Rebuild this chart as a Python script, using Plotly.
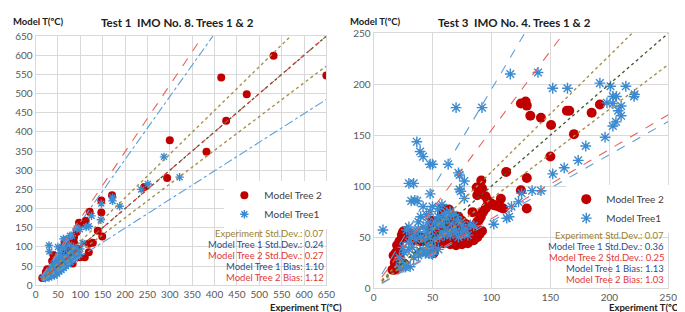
import plotly.graph_objects as go

# ---------------- DATA ----------------
# Left chart: Test 1 IMO No. 8
left_tree2_points = [(650,547),(532,599),(472,498),(415,542),(426,429),(382,348),(300,378),(294,280),
    (243,256),(171,235),(147,221),(147,190),(121,192),(112,168),(97,163),(101,160),(92,139),(139,142),
    (149,127),(128,111),(119,108),(119,86),(110,73),(99,73),(77,117),(86,111),(72,88),(62,75),(78,63),
    (83,57),(59,96),(65,110),(68,106),(40,79),(37,63),(26,42),(23,34),(15,19),(45,60),(50,52),(55,70),
    (60,80),(66,92),(70,100),(52,45),(48,40),(35,30),(30,28),(42,50),(57,62),(63,68),(68,57),(75,70),
    (80,78),(85,90),(86,125),(80,100),(70,65),(62,55),(54,58),(90,75),(95,95)]
left_tree1_points = [(287,335),(322,282),(251,264),(236,250),(172,229),(172,220),(188,206),(147,213),
    (146,171),(125,181),(119,154),(113,152),(99,146),(92,148),(81,129),(70,121),(77,129),(62,121),
    (20,20),(25,22),(28,25),(30,20),(33,28),(35,35),(38,40),(40,30),(42,45),(45,50),(47,38),(50,55),
    (52,48),(55,60),(57,45),(60,65),(62,52),(65,70),(67,58),(70,75),(72,62),(75,80),(78,68),(80,85),
    (82,72),(85,90),(88,78),(90,95),(95,85),(60,100),(65,95),(55,85),(50,75),(45,65),(40,55),(35,45),
    (30,35),(48,30),(53,35),(58,40),(63,45),(68,50),(73,55),(78,60),(83,65),(88,70),(93,75),(98,80),
    (105,110),(50,100),(31,88),(30,104),(18,22),(22,18),(27,30),(42,25),(36,24),(100,95),(85,100),
    (75,105),(58,75),(46,56)]
# reference-line slopes (model = slope * experiment)
left_slopes = {"identity": 1.0, "exp_hi": 1.14, "exp_lo": 0.88,
               "tree2_hi": 1.74, "tree1_hi": 1.64, "tree1_lo": 0.746}
left_line_start = 15

# Right chart: Test 3 IMO No. 4
right_tree2_points = [(125,181),(129,183),(130,179),(133,169),(142,167),(150.6,160),(164,174),(166,174),
    (170,151),(185,172),(192,180),(150,129),(112.5,114),(130,108),(125,96),(130,78),(108,87.7),(110,78),
    (91.4,105.5),(87.5,98.7),(92,98),(88,91),(95,90),(102,81.5),(84,74.5),(58,77.7),(64,77),(51,34.5),
    (98,84),(96,80),(95,78),(93,75),(92,73.6),(91,70),(89.5,67),(88,65),(86.7,62.7),(85,60),(82.5,58),
    (80,55),(78,53),(76,51),(74,50),(72,48),(70,47),(97,86),(100,83),(103,81),(106,80),(108,79),
    (16,18),(18,18),(20,20),(22,22),(24,22),(26,24),(18,25),(20,28),(22,30),(17,32),(19,35),(21,38),
    (20,42),(22,46),(24,52),(25,55),(26,56),(28,56),(30,55),
    (27,51),(30,52),(33,50),(36,51),(39,50),(42,49),(45,50),(48,51),(51,52),(54,51),(57,50),(60,49),
    (63,50),(66,49),(69,50),(72,50),(75,49),(30,48),(35,47),(40,46),(45,47),(50,48),(55,46),(60,47),
    (65,46),(70,46),(75,45),(78,47),(80,50),
    (48,58),(52,62),(55,65),(58,68),(60,70),(62,66),(65,72),(68,68),(70,64),(72,70),(75,66),(78,63),
    (55,58),(60,60),(65,62),(70,58),(75,58),(50,66),(58,73),(63,58),(68,55),(73,53),(54,56),
    (50,44),(55,43),(60,44),(65,43),(70,42),(75,43),(80,44),(85,47),(88,50),(84,52),(90,53),(92,56)]
right_tree1_points = [(36.7,143.5),(39.5,134),(42,129),(48,121.5),(50,121.5),(63.3,121.5),(70,177),
    (92,177),(116,210),(139.5,211.5),(152,196),(164.5,196),(192,201),(201,198),(214,198),(203,188),
    (206,188),(221.4,190),(221,188),(198,181.7),(203,181),(210,178.6),(207.5,174),(210,169),(205.6,163),
    (203,159),(196.4,148),(180,139.4),(173.6,125.3),(161.7,118),(152,112),(142,95.6),(134.5,95.6),
    (125.6,93),(123,84.6),(117,80),(113,68.6),(115,70),(102,62.7),(85,61),(8,57),(30,102.7),(34,102.7),
    (72,113),(73,111),(77,105),(48,92.4),(73,97),(74,95),(77,88),(32,85.5),(35,86),(37,85.5),(42,80),
    (44,34),(47,33.8),(49,33.8),(37,35),(40,35),(31,21),(22,20.5),(25,20.5),(27,20.5),
    (45,35),(50,33),(30,45),(33,40),(35,55),(28,57),(30,60),(38,65),(40,70),(45,72),(48,75),(50,80),
    (55,78),(58,82),(60,72),(62,68),(65,75),(68,72),(70,70),(72,66),(75,62),(42,60),(45,55),(50,58),
    (52,65),(55,62),(58,55),(60,60),(63,55),(65,52),(68,58),(70,55),(72,50),(75,55),(78,58),(80,52),
    (82,62),(48,50),(52,48),(56,50),(60,52),(40,50),(36,48),(32,50),(30,38),(34,30),(38,32),(42,38),
    (46,42),(50,40),(55,38),(25,40),(22,30),(24,25),(28,22),(26,35),(55,70),(62,74),(66,64),(58,64),
    (46,64),(44,48),(38,58)]
right_slopes = {"identity": 1.0, "exp_hi": 1.14, "exp_lo": 0.877,
                "tree2_hi": 1.55, "tree2_lo": 0.68, "tree1_hi": 1.95, "tree1_lo": 0.654}
right_line_start = 7

left_stats = ["Experiment Std.Dev.: 0.07", "Model Tree 1 Std.Dev.: 0.24", "Model Tree 2 Std.Dev.: 0.27",
              "Model Tree 1 Bias: 1.10", "Model Tree 2 Bias: 1.12"]
right_stats = ["Experiment Std.Dev.: 0.07", "Model Tree 1 Std.Dev.: 0.36", "Model Tree 2 Std.Dev.: 0.25",
               "Model Tree 1 Bias: 1.13", "Model Tree 2 Bias: 1.03"]
left_title = "Test 1  IMO No. 8. Trees 1 & 2"
right_title = "Test 3  IMO No. 4. Trees 1 & 2"
left_max, right_max = 650, 250

# ---------------- STYLE ----------------
W, H = 685, 312
FONT = "Lato, Roboto, sans-serif"
RED = "#C00000"
BLUE = "#3C8AD0"
OLIVE_T = "#9A7F35"
NAVY_T = "#2E4C8C"
RED_T = "#E03A34"
GRID = "#D9D9D9"

line_style = {
    "identity": dict(color="#3B5A2A", dash="dot", width=1.3),
    "exp_hi": dict(color="#A8904A", dash="dot", width=1.4),
    "exp_lo": dict(color="#A8904A", dash="dot", width=1.4),
    "tree2_hi": dict(color="#E8605A", dash="dash", width=1.1),
    "tree2_lo": dict(color="#E8605A", dash="dash", width=1.1),
    "tree1_hi": dict(color="#5BA0DA", dash="dashdot", width=1.1),
    "tree1_lo": dict(color="#5BA0DA", dash="dashdot", width=1.1),
}

def fx(p): return p / W
def fy(p): return 1 - p / H

fig = go.Figure()

def add_panel(xa, ya, t2, t1, slopes, x0, vmax, legend, msize, identity_red):
    fig.add_trace(go.Scatter(x=[p[0] for p in t2], y=[p[1] for p in t2], mode="markers",
                             name="Model Tree 2", legend=legend, xaxis=xa, yaxis=ya,
                             marker=dict(symbol="circle", size=msize, color=RED, line=dict(width=0))))
    fig.add_trace(go.Scatter(x=[p[0] for p in t1], y=[p[1] for p in t1], mode="markers",
                             name="Model Tree1", legend=legend, xaxis=xa, yaxis=ya,
                             marker=dict(symbol="asterisk-open", size=msize - 1, color=BLUE,
                                         line=dict(color=BLUE, width=1.4))))
    for key, s in slopes.items():
        x1 = min(vmax, vmax / s)
        st = dict(line_style[key])
        if key in ("tree1_hi", "tree1_lo") and legend == "legend2":
            st["dash"] = "dash"
        fig.add_trace(go.Scatter(x=[x0, x1], y=[x0 * s, x1 * s], mode="lines", showlegend=False,
                                 xaxis=xa, yaxis=ya, line=st, hoverinfo="skip"))
        if key == "identity" and identity_red:
            fig.add_trace(go.Scatter(x=[x0, x1], y=[x0 * s, x1 * s], mode="lines", showlegend=False,
                                     xaxis=xa, yaxis=ya, hoverinfo="skip",
                                     line=dict(color="#E04040", dash="5px,5px", width=1.1)))

add_panel("x", "y", left_tree2_points, left_tree1_points, left_slopes, left_line_start, left_max, "legend", 8, True)
add_panel("x2", "y2", right_tree2_points, right_tree1_points, right_slopes, right_line_start, right_max, "legend2", 10, False)

axis_common = dict(showgrid=True, gridcolor=GRID, gridwidth=1, zeroline=False, showline=True,
                   linecolor=GRID, mirror=True, ticks="", tickfont=dict(family=FONT, size=10, color="#595959"))

fig.update_layout(
    width=W, height=H, margin=dict(l=0, r=0, t=0, b=0),
    paper_bgcolor="white", plot_bgcolor="white",
    font=dict(family=FONT, color="#404040"),
    xaxis=dict(domain=[fx(25), fx(321)], range=[0, left_max], dtick=50, anchor="y", **axis_common),
    yaxis=dict(domain=[fy(282), fy(22)], range=[0, left_max], dtick=50, anchor="x", **axis_common),
    xaxis2=dict(domain=[fx(369), fx(669)], range=[0, right_max], dtick=50, anchor="y2", **axis_common),
    yaxis2=dict(domain=[fy(285), fy(19)], range=[0, right_max], dtick=50, anchor="x2", **axis_common),
    legend=dict(x=fx(322), xanchor="right", y=fy(173), yanchor="top", bgcolor="white",
                font=dict(family=FONT, size=10, color="#404040"), itemwidth=30, tracegroupgap=0),
    legend2=dict(x=fx(670), xanchor="right", y=fy(177), yanchor="top", bgcolor="white",
                 font=dict(family=FONT, size=10, color="#404040"), itemwidth=30, tracegroupgap=0),
    showlegend=True,
)

# white boxes behind the statistics text
fig.add_shape(type="rect", xref="paper", yref="paper", x0=fx(212), x1=fx(320.5), y0=fy(281), y1=fy(222),
              fillcolor="white", line=dict(width=0), layer="below")
fig.add_shape(type="rect", xref="paper", yref="paper", x0=fx(553), x1=fx(668.5), y0=fy(284), y1=fy(222),
              fillcolor="white", line=dict(width=0), layer="below")

stat_colors = [OLIVE_T, NAVY_T, RED_T, NAVY_T, RED_T]
left_rows = [228, 239.5, 251, 262.5, 274]
right_rows = [230, 241.3, 252.7, 264, 275.5]
for txt, c, r in zip(left_stats, stat_colors, left_rows):
    fig.add_annotation(text=txt, xref="paper", yref="paper", x=fx(320.5), y=fy(r), xanchor="right",
                       yanchor="middle", showarrow=False, font=dict(family=FONT, size=9.5, color=c))
for txt, c, r in zip(right_stats, stat_colors, right_rows):
    fig.add_annotation(text=txt, xref="paper", yref="paper", x=fx(667), y=fy(r), xanchor="right",
                       yanchor="middle", showarrow=False, font=dict(family=FONT, size=9.5, color=c))

# titles and axis labels
for t, cx in [(left_title, 169), (right_title, 512)]:
    fig.add_annotation(text="<b>" + t + "</b>", xref="paper", yref="paper", x=fx(cx), y=fy(8),
                       xanchor="center", yanchor="middle", showarrow=False,
                       font=dict(family=FONT, size=11.5, color="#202020"))
for lx in [0, 343]:
    fig.add_annotation(text="<b>Model T(ºC)</b>", xref="paper", yref="paper", x=fx(lx), y=fy(7),
                       xanchor="left", yanchor="middle", showarrow=False,
                       font=dict(family=FONT, size=9.5, color="#202020"))
for rx in [339, 684]:
    fig.add_annotation(text="<b>Experiment T(ºC)</b>", xref="paper", yref="paper", x=fx(rx), y=fy(305),
                       xanchor="right", yanchor="middle", showarrow=False,
                       font=dict(family=FONT, size=9.5, color="#202020"))

fig.write_html("out.html")
